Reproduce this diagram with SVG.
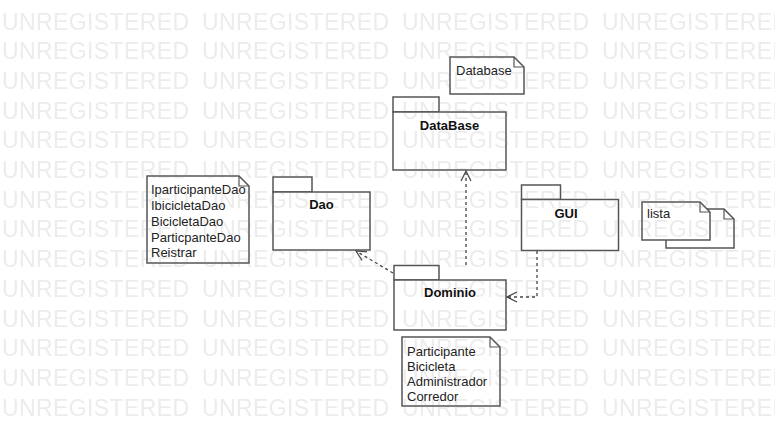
<svg xmlns="http://www.w3.org/2000/svg" xmlns:xlink="http://www.w3.org/1999/xlink" width="775" height="447" viewBox="0 0 775 447">
<style>
.wm{font-family:"Liberation Sans",Arial,sans-serif;font-size:23px;fill:#ececec}
.shape{fill:#fff;stroke:#555;stroke-width:1.5}
.fold{fill:none;stroke:#555;stroke-width:1.2}
.pkg{font-family:"Liberation Sans",Arial,sans-serif;font-size:13px;font-weight:bold;fill:#111;text-anchor:middle}
.note{font-family:"Liberation Sans",Arial,sans-serif;font-size:13px;fill:#222}
.dep{fill:none;stroke:#444;stroke-width:1.3;stroke-dasharray:3,3}
</style>
<defs>
<text id="wm" class="wm" x="0" y="0" textLength="187" lengthAdjust="spacing">UNREGISTERED</text>
<marker id="open" viewBox="0 0 12 12" refX="11" refY="6" markerWidth="12" markerHeight="12" markerUnits="userSpaceOnUse" orient="auto">
<path d="M1,1 L11,6 L1,11" fill="none" stroke="#444" stroke-width="1.2"/>
</marker>
</defs>
<rect width="775" height="447" fill="#fff"/>

<g id="note-database">
<path class="shape" d="M450,57 H514 L524,67 V94 H450 Z"/>
<path class="fold" d="M514,57 V67 H524"/>
<text class="note" x="456" y="75">Database</text>
</g>

<g id="pkg-database">
<rect class="shape" x="393" y="97" width="46" height="15"/>
<rect class="shape" x="393" y="112" width="113" height="58"/>
<text class="pkg" x="449.5" y="130">DataBase</text>
</g>

<g id="note-dao">
<path class="shape" d="M147,176 H239 L249,186 V263 H147 Z"/>
<path class="fold" d="M239,176 V186 H249"/>
<text class="note" x="151" y="194">IparticipanteDao</text>
<text class="note" x="151" y="210">IbicicletaDao</text>
<text class="note" x="151" y="226">BicicletaDao</text>
<text class="note" x="151" y="241.5">ParticpanteDao</text>
<text class="note" x="151" y="257">Reistrar</text>
</g>

<g id="pkg-dao">
<rect class="shape" x="273" y="177" width="39" height="15"/>
<rect class="shape" x="273" y="192" width="97" height="58"/>
<text class="pkg" x="321.5" y="209">Dao</text>
</g>

<g id="pkg-gui">
<rect class="shape" x="521.5" y="185" width="39" height="14.5"/>
<rect class="shape" x="521.5" y="199.5" width="97" height="51"/>
<text class="pkg" x="566" y="217.5">GUI</text>
</g>

<g id="note-lista">
<path class="shape" d="M666,209 H724 L734,219 V248 H666 Z"/>
<path class="fold" d="M724,209 V219 H734"/>
<path class="shape" d="M642,202 H700 L710,212 V240 H642 Z"/>
<path class="fold" d="M700,202 V212 H710"/>
<text class="note" x="647" y="218">lista</text>
</g>

<g id="pkg-dominio">
<rect class="shape" x="394" y="265.5" width="45" height="14.5"/>
<rect class="shape" x="394" y="280" width="112" height="50"/>
<text class="pkg" x="450" y="297">Dominio</text>
</g>

<g id="note-dominio">
<path class="shape" d="M402,337 H490 L500,347 V406 H402 Z"/>
<path class="fold" d="M490,337 V347 H500"/>
<text class="note" x="407" y="356">Participante</text>
<text class="note" x="407" y="371">Bicicleta</text>
<text class="note" x="407" y="386">Administrador</text>
<text class="note" x="407" y="401">Corredor</text>
</g>

<g id="connectors">
<path class="dep" d="M466,265 V171" marker-end="url(#open)"/>
<path class="dep" d="M393,273 L356,251" marker-end="url(#open)"/>
<path class="dep" d="M537,251 V297 H507" marker-end="url(#open)"/>
</g>

<g id="watermark" style="mix-blend-mode:darken">
<use href="#wm" x="2" y="29.5"/><use href="#wm" x="202" y="29.5"/><use href="#wm" x="402" y="29.5"/><use href="#wm" x="602" y="29.5"/>
<use href="#wm" x="2" y="59.2"/><use href="#wm" x="202" y="59.2"/><use href="#wm" x="402" y="59.2"/><use href="#wm" x="602" y="59.2"/>
<use href="#wm" x="2" y="88.9"/><use href="#wm" x="202" y="88.9"/><use href="#wm" x="402" y="88.9"/><use href="#wm" x="602" y="88.9"/>
<use href="#wm" x="2" y="118.6"/><use href="#wm" x="202" y="118.6"/><use href="#wm" x="402" y="118.6"/><use href="#wm" x="602" y="118.6"/>
<use href="#wm" x="2" y="148.3"/><use href="#wm" x="202" y="148.3"/><use href="#wm" x="402" y="148.3"/><use href="#wm" x="602" y="148.3"/>
<use href="#wm" x="2" y="178"/><use href="#wm" x="202" y="178"/><use href="#wm" x="402" y="178"/><use href="#wm" x="602" y="178"/>
<use href="#wm" x="2" y="207.7"/><use href="#wm" x="202" y="207.7"/><use href="#wm" x="402" y="207.7"/><use href="#wm" x="602" y="207.7"/>
<use href="#wm" x="2" y="237.4"/><use href="#wm" x="202" y="237.4"/><use href="#wm" x="402" y="237.4"/><use href="#wm" x="602" y="237.4"/>
<use href="#wm" x="2" y="267.1"/><use href="#wm" x="202" y="267.1"/><use href="#wm" x="402" y="267.1"/><use href="#wm" x="602" y="267.1"/>
<use href="#wm" x="2" y="296.8"/><use href="#wm" x="202" y="296.8"/><use href="#wm" x="402" y="296.8"/><use href="#wm" x="602" y="296.8"/>
<use href="#wm" x="2" y="326.5"/><use href="#wm" x="202" y="326.5"/><use href="#wm" x="402" y="326.5"/><use href="#wm" x="602" y="326.5"/>
<use href="#wm" x="2" y="356.2"/><use href="#wm" x="202" y="356.2"/><use href="#wm" x="402" y="356.2"/><use href="#wm" x="602" y="356.2"/>
<use href="#wm" x="2" y="385.9"/><use href="#wm" x="202" y="385.9"/><use href="#wm" x="402" y="385.9"/><use href="#wm" x="602" y="385.9"/>
<use href="#wm" x="2" y="415.6"/><use href="#wm" x="202" y="415.6"/><use href="#wm" x="402" y="415.6"/><use href="#wm" x="602" y="415.6"/>
</g>
</svg>
